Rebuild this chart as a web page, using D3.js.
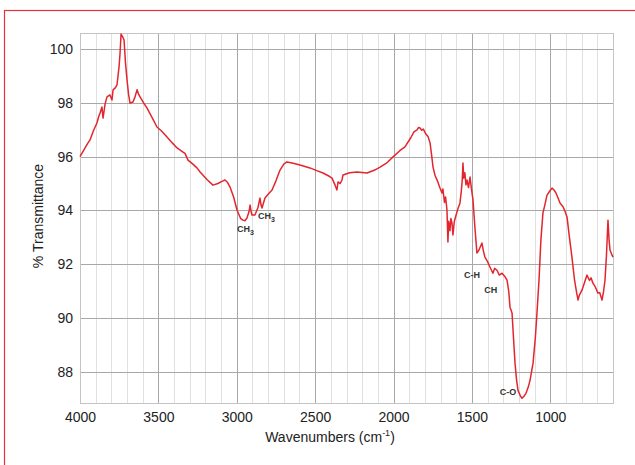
<!DOCTYPE html>
<html>
<head>
<meta charset="utf-8">
<script src="https://cdn.jsdelivr.net/npm/d3@7/dist/d3.min.js"></script>
<style>
  html, body { margin: 0; padding: 0; background: #fff; }
  svg { display: block; font-family: "Liberation Sans", Arial, sans-serif; }
</style>
</head>
<body>
<svg id="chart" width="635" height="465"></svg>
<script>
// FTIR spectrum: wavenumber (cm-1) and % transmittance
const wavenumbers = [4000,3975,3950,3936,3915,3892,3880,3872,3860,3853,3840,3828,3809,3796,3789,3775,3764,3751,3745,3738,3728,3719,3710,3700,3690,3681,3662,3650,3636,3625,3617,3595,3573,3540,3509,3480,3445,3410,3381,3343,3330,3311,3280,3254,3234,3190,3152,3120,3095,3075,3060,3043,3020,2998,2975,2960,2948,2935,2922,2915,2908,2903,2884,2865,2852,2845,2839,2820,2800,2775,2750,2724,2700,2680,2640,2597,2533,2490,2450,2410,2392,2373,2361,2354,2340,2329,2322,2280,2233,2169,2120,2086,2040,2003,1960,1927,1890,1870,1850,1840,1831,1820,1810,1795,1780,1767,1758,1748,1735,1720,1705,1691,1685,1675,1668,1659,1653,1648,1640,1634,1627,1621,1612,1600,1590,1576,1568,1562,1557,1552,1545,1538,1531,1522,1512,1503,1493,1480,1468,1455,1436,1427,1417,1400,1385,1366,1355,1340,1325,1308,1290,1276,1265,1257,1244,1235,1225,1215,1206,1190,1180,1168,1155,1140,1129,1110,1095,1085,1072,1060,1047,1035,1021,1000,989,975,964,950,938,920,905,893,880,862,845,832,823,815,798,780,766,750,740,728,712,696,685,670,660,651,642,632,625,619,606,600];
const transmittance = [96.0,96.25,96.5,96.62,96.95,97.25,97.5,97.62,97.84,97.43,97.95,98.22,98.29,98.10,98.48,98.55,98.66,99.33,99.8,100.55,100.45,100.33,99.5,98.85,98.3,97.99,98.03,98.2,98.48,98.3,98.22,98.0,97.81,97.45,97.10,96.95,96.73,96.5,96.32,96.17,96.12,95.87,95.72,95.58,95.43,95.15,94.94,95.0,95.08,95.13,95.05,94.87,94.5,94.01,93.7,93.64,93.62,93.72,93.95,94.20,93.95,93.83,93.83,94.1,94.46,94.2,94.09,94.46,94.6,94.76,95.1,95.50,95.72,95.80,95.75,95.69,95.58,95.48,95.39,95.27,95.20,94.94,94.76,95.06,95.0,95.13,95.32,95.40,95.43,95.39,95.5,95.61,95.78,95.99,96.22,96.36,96.7,96.92,96.99,97.08,97.06,96.98,97.02,96.85,96.75,96.51,96.1,95.61,95.3,95.1,94.85,94.65,94.8,94.3,94.5,94.01,92.83,93.6,93.25,93.7,93.53,93.09,93.6,93.85,94.05,94.28,94.7,95.1,95.76,95.2,95.4,94.95,95.13,94.85,95.24,94.8,94.39,93.3,92.42,92.53,92.79,92.5,92.27,92.1,91.90,91.67,91.85,91.78,91.6,91.67,91.55,91.41,91.0,90.41,90.19,89.3,88.33,87.7,87.32,87.1,87.03,87.1,87.21,87.45,87.70,88.33,89.3,90.19,91.41,92.9,93.90,94.2,94.57,94.75,94.83,94.75,94.65,94.45,94.28,94.15,93.95,93.75,93.1,92.27,91.4,90.95,90.67,90.85,91.04,91.35,91.60,91.4,91.5,91.30,91.15,90.93,90.95,90.67,91.0,91.41,92.3,93.64,92.9,92.53,92.34,92.27];

const xTicks = [4000, 3500, 3000, 2500, 2000, 1500, 1000];
const xMinorTicks = [3900,3800,3700,3600,3400,3300,3200,3100,2900,2800,2700,2600,2400,2300,2200,2100,1900,1800,1700,1600,1400,1300,1200,1100,900,800,700];
const yTicks = [88, 90, 92, 94, 96, 98, 100];

// Band assignments: text, subscript, wavenumber, transmittance of label anchor
const bandLabels = [
  { text: "CH", sub: "3", w: 2945, t: 93.2 },
  { text: "CH", sub: "3", w: 2810, t: 93.7 },
  { text: "C-H", sub: "", w: 1500, t: 91.5 },
  { text: "CH", sub: "", w: 1380, t: 90.95 },
  { text: "C-O", sub: "", w: 1270, t: 87.15 }
];

const svg = d3.select("#chart");
const plotL = 80, plotR = 613, plotT = 33, plotB = 403;

// outer frame
svg.append("rect")
  .attr("x", 4.5).attr("y", 10.5)
  .attr("width", 700).attr("height", 500)
  .attr("fill", "none").attr("stroke", "#e8313a").attr("stroke-width", 1.2);

const x = d3.scaleLinear().domain([4000, 600]).range([plotL, plotR]);
const y = d3.scaleLinear().domain([86.85, 100.59]).range([plotB, plotT]);

// minor vertical grid
svg.append("g").selectAll("line").data(xMinorTicks).join("line")
  .attr("x1", d => Math.round(x(d)) + 0.5).attr("x2", d => Math.round(x(d)) + 0.5)
  .attr("y1", plotT).attr("y2", plotB)
  .attr("stroke", "#e0e0e0").attr("stroke-width", 1);

// major vertical grid
svg.append("g").selectAll("line").data(xTicks.slice(1)).join("line")
  .attr("x1", d => Math.round(x(d)) + 0.5).attr("x2", d => Math.round(x(d)) + 0.5)
  .attr("y1", plotT).attr("y2", plotB)
  .attr("stroke", "#a8a8a8").attr("stroke-width", 1);

// horizontal grid
svg.append("g").selectAll("line").data(yTicks).join("line")
  .attr("x1", plotL).attr("x2", plotR)
  .attr("y1", d => Math.round(y(d)) + 0.5).attr("y2", d => Math.round(y(d)) + 0.5)
  .attr("stroke", "#a8a8a8").attr("stroke-width", 1);

// plot frame
svg.append("rect")
  .attr("x", plotL + 0.5).attr("y", plotT + 0.5)
  .attr("width", plotR - plotL).attr("height", plotB - plotT)
  .attr("fill", "none").attr("stroke", "#c4c4c4");

// axes (labels only)
const xAxis = d3.axisBottom(x).tickValues(xTicks).tickSize(0).tickPadding(9).tickFormat(d3.format("d"));
const gx = svg.append("g").attr("transform", `translate(0,${plotB})`).call(xAxis);
gx.select(".domain").remove();
gx.selectAll("text").attr("font-size", 14).attr("fill", "#222").attr("font-family", "Liberation Sans, Arial, sans-serif");

const yAxis = d3.axisLeft(y).tickValues(yTicks).tickSize(0).tickPadding(7).tickFormat(d3.format("d"));
const gy = svg.append("g").attr("transform", `translate(${plotL},0)`).call(yAxis);
gy.select(".domain").remove();
gy.selectAll("text").attr("font-size", 14).attr("fill", "#222").attr("font-family", "Liberation Sans, Arial, sans-serif");

// axis titles
const xt = svg.append("text")
  .attr("x", 330).attr("y", 442)
  .attr("text-anchor", "middle").attr("font-size", 14).attr("fill", "#222");
xt.append("tspan").text("Wavenumbers (cm");
xt.append("tspan").attr("font-size", 9).attr("dy", -6).text("-1");
xt.append("tspan").attr("dy", 6).text(")");

svg.append("text")
  .attr("transform", "translate(43,216) rotate(-90)")
  .attr("text-anchor", "middle").attr("font-size", 14).attr("fill", "#222")
  .text("% Transmittance");

// spectrum
const pts = wavenumbers.map((w, i) => [w, transmittance[i]]);
svg.append("path")
  .datum(pts)
  .attr("fill", "none")
  .attr("stroke", "#e3262e")
  .attr("stroke-width", 1.5)
  .attr("stroke-linejoin", "round")
  .attr("d", d3.line().x(d => x(d[0])).y(d => y(d[1])));

// band labels
bandLabels.forEach(b => {
  const t = svg.append("text")
    .attr("x", x(b.w)).attr("y", y(b.t))
    .attr("text-anchor", "middle")
    .attr("font-size", 9).attr("font-weight", "bold").attr("fill", "#333");
  t.append("tspan").text(b.text);
  if (b.sub) t.append("tspan").attr("font-size", 7).attr("dy", 3).text(b.sub);
});
</script>
</body>
</html>
